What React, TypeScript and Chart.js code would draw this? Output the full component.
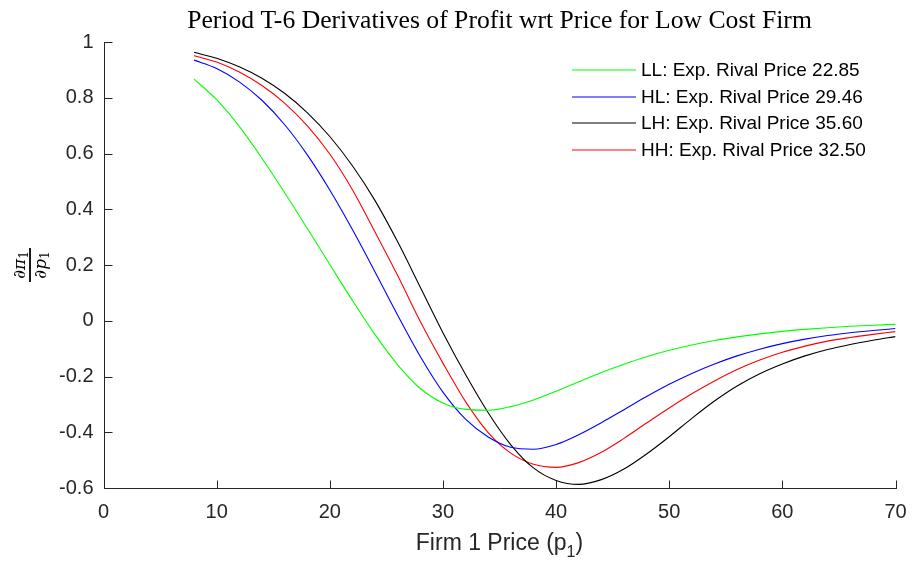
import React, { useEffect, useRef } from "react";
import { Chart, registerables } from "chart.js";

Chart.register(...registerables);

// ---- data ----
const xValues = [8, 10, 12, 14, 16, 18, 20, 22, 24, 26, 28, 30, 32, 34, 36, 38, 40, 42, 44, 46, 48, 50, 52, 54, 56, 58, 60, 62, 64, 66, 68, 70];
const llValues = [0.867, 0.793, 0.697, 0.583, 0.46, 0.332, 0.202, 0.073, -0.05, -0.158, -0.243, -0.295, -0.318, -0.321, -0.308, -0.284, -0.253, -0.219, -0.186, -0.156, -0.129, -0.106, -0.087, -0.071, -0.058, -0.047, -0.038, -0.031, -0.025, -0.02, -0.016, -0.013];
const hlValues = [0.935, 0.905, 0.857, 0.791, 0.704, 0.596, 0.469, 0.327, 0.175, 0.02, -0.128, -0.256, -0.353, -0.417, -0.454, -0.461, -0.444, -0.409, -0.366, -0.319, -0.272, -0.228, -0.189, -0.155, -0.126, -0.102, -0.082, -0.066, -0.053, -0.043, -0.035, -0.028];
const lhValues = [0.963, 0.942, 0.911, 0.87, 0.816, 0.747, 0.661, 0.556, 0.431, 0.283, 0.12, -0.043, -0.193, -0.33, -0.445, -0.528, -0.573, -0.587, -0.57, -0.532, -0.478, -0.416, -0.35, -0.288, -0.234, -0.19, -0.155, -0.126, -0.103, -0.085, -0.07, -0.057];
const hhValues = [0.951, 0.928, 0.892, 0.844, 0.781, 0.7, 0.598, 0.47, 0.318, 0.162, -0.003, -0.152, -0.29, -0.401, -0.475, -0.515, -0.526, -0.509, -0.472, -0.422, -0.367, -0.313, -0.262, -0.216, -0.175, -0.141, -0.113, -0.091, -0.073, -0.06, -0.049, -0.039];

const seriesLabels = [
  "LL: Exp. Rival Price 22.85",
  "HL: Exp. Rival Price 29.46",
  "LH: Exp. Rival Price 35.60",
  "HH: Exp. Rival Price 32.50",
];
const seriesColors = ["#00ff00", "#0000ff", "#000000", "#ff0000"];
const xTicks = [0, 10, 20, 30, 40, 50, 60, 70];
const yTicks = [-0.6, -0.4, -0.2, 0, 0.2, 0.4, 0.6, 0.8, 1];
const titleText = "Period T-6 Derivatives of Profit wrt Price for Low Cost Firm";
const xTitleMain = "Firm 1 Price (p";
const xTitleSub = "1";
const xTitleEnd = ")";

const AXIS = "#262626";

const overlayPlugin = {
  id: "overlay",
  afterDraw(chart: any) {
    const { ctx, chartArea: ca, scales } = chart;
    const xs = scales.x;
    const ys = scales.y;
    ctx.save();
    // axes + inward ticks
    ctx.strokeStyle = AXIS;
    ctx.lineWidth = 1;
    const left = Math.round(ca.left) + 0.5;
    const bottom = Math.round(ca.bottom) + 0.5;
    ctx.beginPath();
    ctx.moveTo(left, Math.round(ca.top));
    ctx.lineTo(left, bottom);
    ctx.lineTo(Math.round(ca.right) + 1, bottom);
    xTicks.forEach((v) => {
      const px = Math.round(xs.getPixelForValue(v)) + 0.5;
      ctx.moveTo(px, bottom);
      ctx.lineTo(px, bottom - 8);
    });
    yTicks.forEach((v) => {
      const py = Math.round(ys.getPixelForValue(v)) + 0.5;
      ctx.moveTo(left, py);
      ctx.lineTo(left + 8, py);
    });
    ctx.stroke();

    const cx = (ca.left + ca.right) / 2;

    // title (serif, fitted)
    let fs = 22;
    ctx.font = `${fs}px "Liberation Serif", "Times New Roman", serif`;
    const w = ctx.measureText(titleText).width;
    fs = fs * (625 / w);
    ctx.font = `${fs}px "Liberation Serif", "Times New Roman", serif`;
    ctx.fillStyle = "#000";
    ctx.textAlign = "center";
    ctx.textBaseline = "alphabetic";
    ctx.fillText(titleText, cx, 28);

    // x-axis title with subscript
    ctx.fillStyle = AXIS;
    const mainFont = `23px "Liberation Sans", Arial, sans-serif`;
    const subFont = `16px "Liberation Sans", Arial, sans-serif`;
    ctx.font = mainFont;
    const w1 = ctx.measureText(xTitleMain).width;
    const w3 = ctx.measureText(xTitleEnd).width;
    ctx.font = subFont;
    const w2 = ctx.measureText(xTitleSub).width;
    const total = w1 + w2 + w3;
    let sx = cx - total / 2;
    ctx.textAlign = "left";
    ctx.font = mainFont;
    ctx.fillText(xTitleMain, sx, 550);
    sx += w1;
    ctx.font = subFont;
    ctx.fillText(xTitleSub, sx, 557);
    sx += w2;
    ctx.font = mainFont;
    ctx.fillText(xTitleEnd, sx, 550);

    // y-axis label: fraction d pi_1 / d p_1, rotated
    const cy = (ca.top + ca.bottom) / 2;
    ctx.save();
    ctx.translate(30, cy);
    ctx.rotate(-Math.PI / 2);
    ctx.fillStyle = "#000";
    ctx.fillRect(-17, -0.9, 34, 1.8);
    const fracFont = `italic 17px "DejaVu Serif", "Liberation Serif", serif`;
    const fracSub = `12px "DejaVu Serif", "Liberation Serif", serif`;
    const drawPart = (main: string, sub: string, base: number) => {
      ctx.font = fracFont;
      const a = ctx.measureText(main).width;
      ctx.font = fracSub;
      const b = ctx.measureText(sub).width;
      const start = -(a + b) / 2;
      ctx.textAlign = "left";
      ctx.font = fracFont;
      ctx.fillText(main, start, base);
      ctx.font = fracSub;
      ctx.fillText(sub, start + a, base + 3);
    };
    drawPart("\u2202\u03C0", "1", -5);
    drawPart("\u2202p", "1", 16);
    ctx.restore();

    // legend
    ctx.textAlign = "left";
    ctx.textBaseline = "middle";
    ctx.font = `19px "Liberation Sans", Arial, sans-serif`;
    seriesLabels.forEach((lab, i) => {
      const y = 70 + i * 26.6;
      ctx.strokeStyle = seriesColors[i];
      ctx.lineWidth = 1.2;
      ctx.beginPath();
      ctx.moveTo(572, Math.round(y));
      ctx.lineTo(636, Math.round(y));
      ctx.stroke();
      ctx.fillStyle = "#000";
      ctx.fillText(lab, 641, y + 1);
    });
    ctx.restore();
  },
};

export default function App() {
  const ref = useRef<HTMLCanvasElement | null>(null);
  useEffect(() => {
    document.body.style.margin = "0";
    const seriesValues = [llValues, hlValues, lhValues, hhValues];
    const chart = new Chart(ref.current as HTMLCanvasElement, {
      type: "line",
      data: {
        datasets: seriesValues.map((vals, i) => ({
          label: seriesLabels[i],
          data: xValues.map((x, j) => ({ x, y: vals[j] })),
          borderColor: seriesColors[i],
          borderWidth: 1.1,
          pointRadius: 0,
          fill: false,
          cubicInterpolationMode: "monotone" as const,
        })),
      },
      options: {
        responsive: false,
        animation: false,
        layout: { padding: { top: 42, right: 16.5, left: 0, bottom: 0 } },
        plugins: {
          legend: { display: false },
          title: { display: false },
          tooltip: { enabled: false },
        },
        scales: {
          x: {
            type: "linear",
            min: 0,
            max: 70,
            grid: { display: false, drawTicks: false },
            border: { display: false },
            ticks: {
              stepSize: 10,
              padding: 12,
              color: AXIS,
              font: { family: '"Liberation Sans", Arial, sans-serif', size: 20 },
              maxRotation: 0,
            },
            afterFit: (s: any) => {
              s.height = 75;
              s.paddingRight = 0;
              s.paddingLeft = 0;
            },
          },
          y: {
            type: "linear",
            min: -0.6,
            max: 1,
            grid: { display: false, drawTicks: false },
            border: { display: false },
            ticks: {
              stepSize: 0.2,
              padding: 10,
              color: AXIS,
              font: { family: '"Liberation Sans", Arial, sans-serif', size: 20 },
              callback: (v: any) => String(Number(Number(v).toFixed(1))),
            },
            afterFit: (s: any) => {
              s.width = 103.5;
              s.paddingTop = 0;
              s.paddingBottom = 0;
            },
          },
        },
      },
      plugins: [overlayPlugin],
    });
    return () => chart.destroy();
  }, []);
  return (
    <div style={{ width: 912, height: 563, position: "relative" }}>
      <canvas ref={ref} width={912} height={563} style={{ display: "block" }} />
    </div>
  );
}
